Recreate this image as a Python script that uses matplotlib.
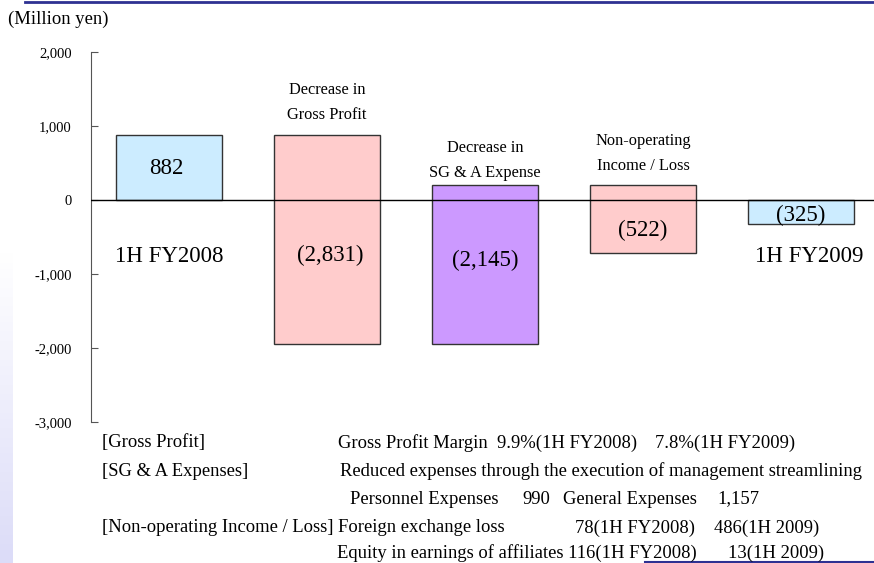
import matplotlib
matplotlib.use("Agg")
import matplotlib.pyplot as plt
from matplotlib.colors import LinearSegmentedColormap
import numpy as np

plt.rcParams['font.family'] = ['Liberation Serif', 'DejaVu Serif']

# bar data (start and end of each waterfall step)
steps = ['1H FY2008', 'Decrease in\nGross Profit', 'Decrease in\nSG & A Expense',
         'Non-operating\nIncome / Loss', '1H FY2009']
starts = [0, 882, -1949, 196, 0]
ends = [882, -1949, 196, -716, -325]
value_labels = ['882', '(2,831)', '(2,145)', '(522)', '(325)']
colors = ['#CCECFF', '#FFCCCC', '#CC99FF', '#FFCCCC', '#CCECFF']
yticks = [2000, 1000, 0, -1000, -2000, -3000]
ytick_labels = ['2,000', '1,000', '0', '-1,000', '-2,000', '-3,000']

fig = plt.figure(figsize=(8.74, 5.63), dpi=100)

# left decorative gradient strip
gax = fig.add_axes([0, 0, 13 / 874, 313 / 563])
grad = np.linspace(0, 1, 100).reshape(-1, 1)
cmap = LinearSegmentedColormap.from_list('lav', ['#DCDCF8', '#FFFFFF'])
gax.imshow(grad, aspect='auto', cmap=cmap, origin='lower')
gax.axis('off')

ax = fig.add_axes([91 / 874, 1 - 422 / 563, 1 - 91 / 874, (422 - 52) / 563])
x = np.arange(len(steps))
bottoms = [min(s, e) for s, e in zip(starts, ends)]
heights = [abs(e - s) for s, e in zip(starts, ends)]
ax.bar(x, heights, bottom=bottoms, width=0.67, color=colors,
       edgecolor='#333333', linewidth=1.0, zorder=2)
ax.axhline(0, color='black', linewidth=1.0, zorder=3)

ax.set_ylim(-3000, 2000)
ax.set_xlim(-0.494, 4.462)
ax.set_yticks(yticks)
ax.set_yticklabels(ytick_labels)
ax.tick_params(axis='y', direction='in', length=5, pad=14, labelsize=10.5, color='#555555')
ax.set_xticks([])
for side in ['top', 'right', 'bottom']:
    ax.spines[side].set_visible(False)
ax.spines['left'].set_color('#555555')
ax.patch.set_alpha(0)

# value labels inside / beside the bars
label_x = [-0.02, 1.02, 2.0, 3.0, 4.0]
label_y = [432, -743, -811, -405, -203]
for lx, lab, ly in zip(label_x, value_labels, label_y):
    ax.text(lx, ly, lab, ha='center', va='center', fontsize=16.5)
ax.text(0, -770, steps[0], ha='center', va='center', fontsize=16.5)
ax.text(4.05, -770, steps[4], ha='center', va='center', fontsize=16.5)

# step labels above bars
for xi, ly in zip([1, 2, 3], [1324, 534, 635]):
    ax.text(xi, ly, steps[xi], ha='center', va='center', fontsize=11.8,
            linespacing=1.75)

# header and notes
fig.text(8 / 874, 1 - 19 / 563, '(Million yen)', ha='left', va='center', fontsize=13.4)
notes = [
    (102, 443, '[Gross Profit]'),
    (338, 443, 'Gross Profit Margin  9.9%(1H FY2008)'),
    (655, 443, '7.8%(1H FY2009)'),
    (102, 471, '[SG & A Expenses]'),
    (340, 471, 'Reduced expenses through the execution of management streamlining'),
    (350, 499, 'Personnel Expenses'),
    (522, 499, '990'),
    (563, 499, 'General Expenses'),
    (717, 499, '1,157'),
    (102, 528, '[Non-operating Income / Loss]'),
    (338, 528, 'Foreign exchange loss'),
    (575, 528, '78(1H FY2008)'),
    (714, 528, '486(1H 2009)'),
    (337, 553, 'Equity in earnings of affiliates 116(1H FY2008)'),
    (728, 553, '13(1H 2009)'),
]
for nx_, ny_, t in notes:
    fig.text(nx_ / 874, 1 - ny_ / 563, t, ha='left', va='center', fontsize=13.4)

# decorative rules
fig.add_artist(plt.Line2D([25 / 874, 1], [1 - 1.5 / 563, 1 - 1.5 / 563],
                          color='#2E3192', linewidth=2))
fig.add_artist(plt.Line2D([645 / 874, 1], [1 - 561.5 / 563, 1 - 561.5 / 563],
                          color='#2E3192', linewidth=1.5))

fig.savefig('out.png', dpi=100)
